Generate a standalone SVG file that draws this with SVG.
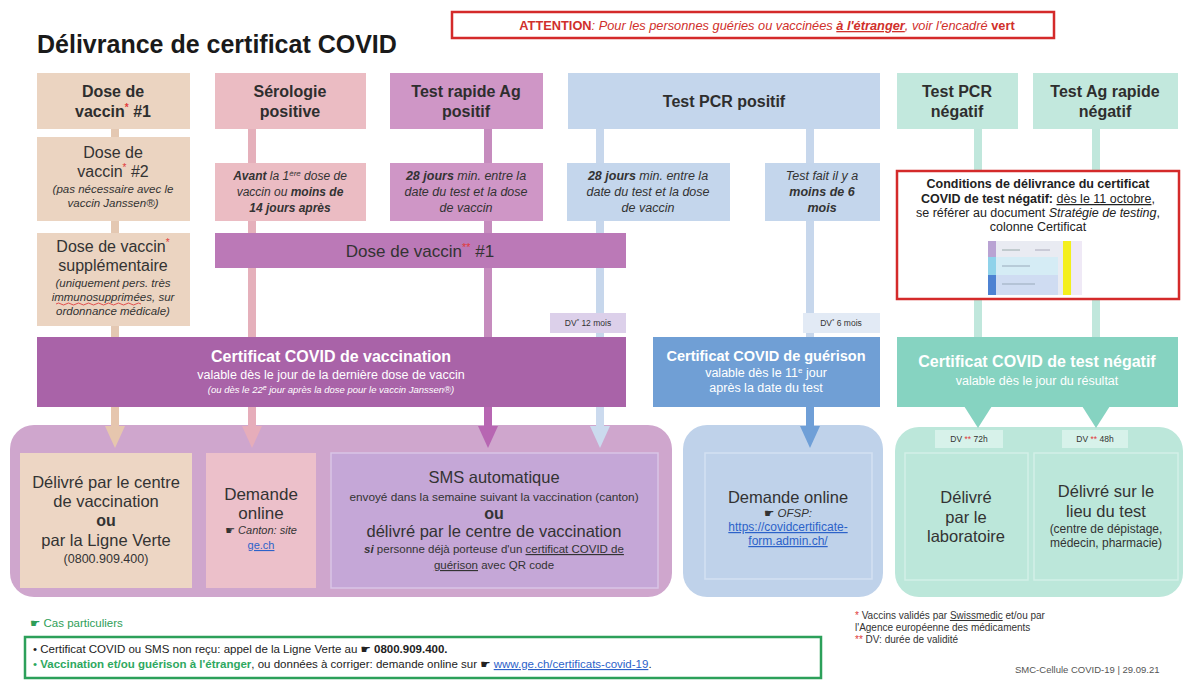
<svg xmlns="http://www.w3.org/2000/svg" width="1184" height="680" viewBox="0 0 1184 680">
<defs>
<style>
text{font-family:"Liberation Sans",Arial,sans-serif;fill:#333}
.m{text-anchor:middle}
.h{font-weight:bold;font-size:16px;fill:#2e2e2e}
.it{font-style:italic}
.b{font-weight:bold}
.r{fill:#e03a3a}
.w{fill:#fff}
.lnk{fill:#2c62c9;text-decoration:underline}
.u{text-decoration:underline}
.hand{font-family:"DejaVu Sans",sans-serif}
.ln{fill:none;stroke-width:8}
</style>
<marker id="aTan" viewBox="0 0 22 20" refX="0" refY="10" markerWidth="22" markerHeight="20" markerUnits="userSpaceOnUse" orient="auto"><path d="M0,0 L22,10 L0,20 z" fill="#e6c6ae"/></marker>
<marker id="aPink" viewBox="0 0 22 20" refX="0" refY="10" markerWidth="22" markerHeight="20" markerUnits="userSpaceOnUse" orient="auto"><path d="M0,0 L22,10 L0,20 z" fill="#e6adba"/></marker>
<marker id="aMauve" viewBox="0 0 22 20" refX="0" refY="10" markerWidth="22" markerHeight="20" markerUnits="userSpaceOnUse" orient="auto"><path d="M0,0 L22,10 L0,20 z" fill="#b766b2"/></marker>
<marker id="aLBlue" viewBox="0 0 22 20" refX="0" refY="10" markerWidth="22" markerHeight="20" markerUnits="userSpaceOnUse" orient="auto"><path d="M0,0 L22,10 L0,20 z" fill="#cbdaee"/></marker>
<marker id="aBlue" viewBox="0 0 22 20" refX="0" refY="10" markerWidth="22" markerHeight="20" markerUnits="userSpaceOnUse" orient="auto"><path d="M0,0 L22,10 L0,20 z" fill="#6f9fd7"/></marker>
</defs>
<rect width="1184" height="680" fill="#fff"/>

<text x="37" y="53" font-size="25" font-weight="bold" style="fill:#1a1a1a">Délivrance de certificat COVID</text>

<g id="attention">
<rect x="452" y="12" width="602" height="26" fill="#fff" stroke="#d42a2a" stroke-width="2.5"/>
<text x="767" y="30" class="m it" font-size="12.8" style="fill:#d0302c"><tspan class="b" font-style="normal">ATTENTION</tspan>: Pour les personnes guéries ou vaccinées <tspan class="b u">à l'étranger</tspan>, voir l'encadré <tspan class="b" font-style="normal">vert</tspan></text>
</g>

<!-- containers -->
<g id="cont-vacc"><rect x="10" y="425" width="662" height="172" rx="24" fill="#cfa6cd"/></g>
<g id="cont-guer"><rect x="683" y="425" width="200" height="172" rx="24" fill="#bfd2ea"/></g>
<g id="cont-neg"><rect x="895" y="427" width="288" height="170" rx="24" fill="#bce7da"/></g>

<!-- connectors -->
<g id="connectors">
<line class="ln" x1="115" y1="129" x2="115" y2="337" stroke="#e4c8b2"/>
<line class="ln" x1="115" y1="407" x2="115" y2="426" stroke="#e6c6ae" marker-end="url(#aTan)"/>
<line class="ln" x1="252" y1="129" x2="252" y2="337" stroke="#e5b0bb"/>
<line class="ln" x1="252" y1="407" x2="252" y2="426" stroke="#e6adba" marker-end="url(#aPink)"/>
<line class="ln" x1="488" y1="129" x2="488" y2="337" stroke="#c68cbe"/>
<line class="ln" x1="488" y1="407" x2="488" y2="426" stroke="#b766b2" marker-end="url(#aMauve)"/>
<line class="ln" x1="600" y1="129" x2="600" y2="337" stroke="#c7d7ec"/>
<line class="ln" x1="600" y1="407" x2="600" y2="426" stroke="#cbdaee" marker-end="url(#aLBlue)"/>
<line class="ln" x1="810" y1="129" x2="810" y2="337" stroke="#c7d7ec"/>
<line class="ln" x1="810" y1="407" x2="810" y2="426" stroke="#6f9fd7" marker-end="url(#aBlue)"/>
<line class="ln" x1="978" y1="129" x2="978" y2="337" stroke="#c0e7dc"/>
<line class="ln" x1="1096" y1="129" x2="1096" y2="337" stroke="#c0e7dc"/>
<polygon points="964,406 992,406 978,428" fill="#86d3c1"/>
<polygon points="1082,406 1110,406 1096,428" fill="#86d3c1"/>
</g>

<!-- top row -->
<g id="dose1">
<rect x="37" y="73" width="153" height="56" fill="#ebd4c1"/>
<text x="113" y="97" class="m h">Dose de</text>
<text x="113" y="117" class="m h">vaccin<tspan class="r" font-size="10" dy="-6">*</tspan><tspan dy="6"> #1</tspan></text>
</g>
<g id="serologie">
<rect x="215" y="73" width="151" height="56" fill="#ebbcc3"/>
<text x="290" y="97" class="m h">Sérologie</text>
<text x="290" y="117" class="m h">positive</text>
</g>
<g id="ag-pos">
<rect x="390" y="73" width="153" height="56" fill="#cf96c6"/>
<text x="466" y="97" class="m h">Test rapide Ag</text>
<text x="466" y="117" class="m h">positif</text>
</g>
<g id="pcr-pos">
<rect x="568" y="73" width="312" height="56" fill="#c4d6ec"/>
<text x="724" y="107" class="m h">Test PCR positif</text>
</g>
<g id="pcr-neg">
<rect x="897" y="73" width="121" height="56" fill="#c2e8dd"/>
<text x="957" y="97" class="m h">Test PCR</text>
<text x="957" y="117" class="m h">négatif</text>
</g>
<g id="ag-neg">
<rect x="1033" y="73" width="145" height="56" fill="#c2e8dd"/>
<text x="1105" y="97" class="m h">Test Ag rapide</text>
<text x="1105" y="117" class="m h">négatif</text>
</g>

<!-- second row -->
<g id="dose2">
<rect x="37" y="137" width="153" height="84" fill="#ebd4c1"/>
<text x="113" y="158" class="m" font-size="16">Dose de</text>
<text x="113" y="177" class="m" font-size="16">vaccin<tspan class="r" font-size="10" dy="-6">*</tspan><tspan dy="6"> #2</tspan></text>
<text x="113" y="193" class="m it" font-size="11.5">(pas nécessaire avec le</text>
<text x="113" y="207" class="m it" font-size="11.5">vaccin Janssen®)</text>
</g>
<g id="serologie-cond">
<rect x="215" y="163" width="151" height="58" fill="#ebbcc3"/>
<text x="290" y="180" class="m it" font-size="12"><tspan class="b">Avant</tspan> la 1<tspan font-size="8" dy="-4">ère</tspan><tspan dy="4"> dose de</tspan></text>
<text x="290" y="196" class="m it" font-size="12">vaccin ou <tspan class="b">moins de</tspan></text>
<text x="290" y="212" class="m it b" font-size="12">14 jours après</text>
</g>
<g id="ag-cond">
<rect x="390" y="163" width="153" height="58" fill="#cf96c6"/>
<text x="466" y="180" class="m it" font-size="12.5"><tspan class="b">28 jours</tspan> min. entre la</text>
<text x="466" y="196" class="m it" font-size="12.5">date du test et la dose</text>
<text x="466" y="212" class="m it" font-size="12.5">de vaccin</text>
</g>
<g id="pcr-cond1">
<rect x="567" y="163" width="163" height="58" fill="#c4d6ec"/>
<text x="648" y="180" class="m it" font-size="12.5"><tspan class="b">28 jours</tspan> min. entre la</text>
<text x="648" y="196" class="m it" font-size="12.5">date du test et la dose</text>
<text x="648" y="212" class="m it" font-size="12.5">de vaccin</text>
</g>
<g id="pcr-cond2">
<rect x="765" y="163" width="115" height="58" fill="#c4d6ec"/>
<text x="822" y="180" class="m it" font-size="12.5">Test fait il y a</text>
<text x="822" y="196" class="m it b" font-size="12.5">moins de 6</text>
<text x="822" y="212" class="m it b" font-size="12.5">mois</text>
</g>
<g id="conditions">
<rect x="897" y="171" width="282" height="128" fill="#fff" stroke="#d42a2a" stroke-width="2.5"/>
<text x="1038" y="188" class="m b" font-size="12.5" style="fill:#222">Conditions de délivrance du certificat</text>
<text x="1038" y="203" class="m" font-size="12.5" style="fill:#222"><tspan class="b">COVID de test négatif:</tspan> <tspan class="u">dès le 11 octobre</tspan>,</text>
<text x="1038" y="217" class="m" font-size="12.5" style="fill:#222">se référer au document <tspan class="it">Stratégie de testing</tspan>,</text>
<text x="1038" y="231" class="m" font-size="12.5" style="fill:#222">colonne Certificat</text>
<rect x="988" y="241" width="94" height="54" fill="#e9ebf2"/>
<rect x="988" y="241" width="8" height="16" fill="#b9a3d3"/>
<rect x="988" y="257" width="8" height="18" fill="#8fd2ea"/>
<rect x="988" y="275" width="8" height="20" fill="#4d82d2"/>
<rect x="996" y="257" width="62" height="18" fill="#d5ecf5"/>
<rect x="996" y="275" width="62" height="20" fill="#cfdcf2"/>
<rect x="1063" y="241" width="8" height="54" fill="#f4ef1c"/>
<rect x="1072" y="241" width="10" height="54" fill="#efe9f6"/>
<line x1="1002" y1="250" x2="1020" y2="250" stroke="#9aa" stroke-width="1"/>
<line x1="1002" y1="266" x2="1030" y2="266" stroke="#9ab" stroke-width="1"/>
<line x1="1002" y1="284" x2="1035" y2="284" stroke="#9ab" stroke-width="1"/>
<line x1="1035" y1="250" x2="1050" y2="250" stroke="#aab" stroke-width="1"/>
</g>

<!-- third row -->
<g id="dose-supp">
<rect x="37" y="233" width="153" height="93" fill="#ebd4c1"/>
<text x="113" y="252" class="m" font-size="16">Dose de vaccin<tspan class="r" font-size="10" dy="-6">*</tspan></text>
<text x="113" y="271" class="m" font-size="16">supplémentaire</text>
<text x="113" y="287" class="m it" font-size="11.5">(uniquement pers. très</text>
<text x="113" y="301" class="m it" font-size="11.5">immunosupprimées, sur</text>
<path d="M56,304 q2.5,-2 5,0 t5,0 t5,0 t5,0 t5,0 t5,0 t5,0 t5,0 t5,0 t5,0 t5,0 t5,0 t5,0 t5,0 t5,0 t5,0 t5,0" fill="none" stroke="#e04040" stroke-width="0.9"/>
<text x="113" y="315" class="m it" font-size="11.5">ordonnance médicale)</text>
</g>
<g id="dose-vaccin-1">
<rect x="215" y="233" width="411" height="35" fill="#bb79b7"/>
<text x="420" y="257" class="m" font-size="17">Dose de vaccin<tspan class="r" font-size="11" dy="-6">**</tspan><tspan dy="6"> #1</tspan></text>
</g>
<g id="dv12">
<rect x="550" y="313" width="76" height="20" fill="#dcd0ea"/>
<text x="588" y="326" class="m" font-size="8.5">DV<tspan font-size="6" dy="-3">*</tspan><tspan dy="3"> 12 mois</tspan></text>
</g>
<g id="dv6">
<rect x="803" y="313" width="77" height="20" fill="#e2eaf5"/>
<text x="841" y="326" class="m" font-size="8.5">DV<tspan font-size="6" dy="-3">*</tspan><tspan dy="3"> 6 mois</tspan></text>
</g>

<!-- certificates -->
<g id="cert-vaccination">
<rect x="37" y="337" width="589" height="70" fill="#a963a8"/>
<text x="331" y="362" class="m b w" font-size="16">Certificat COVID de vaccination</text>
<text x="331" y="379" class="m w" font-size="12.5">valable dès le jour de la dernière dose de vaccin</text>
<text x="331" y="393" class="m it w" font-size="9.5">(ou dès le 22<tspan font-size="7" dy="-3">e</tspan><tspan dy="3"> jour après la dose pour le vaccin Janssen®)</tspan></text>
</g>
<g id="cert-guerison">
<rect x="653" y="337" width="227" height="70" fill="#709fd5"/>
<text x="766" y="361" class="m b w" font-size="14.5">Certificat COVID de guérison</text>
<text x="766" y="377" class="m w" font-size="12.5">valable dès le 11<tspan font-size="8" dy="-4">e</tspan><tspan dy="4"> jour</tspan></text>
<text x="766" y="392" class="m w" font-size="12.5">après la date du test</text>
</g>
<g id="cert-negatif">
<rect x="897" y="337" width="281" height="70" fill="#86d3c1"/>
<text x="1037" y="367" class="m b w" font-size="16">Certificat COVID de test négatif</text>
<text x="1037" y="385" class="m w" font-size="12.5">valable dès le jour du résultat</text>
</g>

<!-- bottom delivery boxes -->
<g id="deliv-centre">
<rect x="20" y="453" width="172" height="135" fill="#edd6c4"/>
<text x="106" y="488" class="m" font-size="16.5">Délivré par le centre</text>
<text x="106" y="507" class="m" font-size="16.5">de vaccination</text>
<text x="106" y="526" class="m b" font-size="16">ou</text>
<text x="106" y="546" class="m" font-size="16.5">par la Ligne Verte</text>
<text x="106" y="563" class="m" font-size="12.5">(0800.909.400)</text>
</g>
<g id="deliv-online-canton">
<rect x="206" y="453" width="110" height="135" fill="#ecc0ca"/>
<text x="261" y="500" class="m" font-size="17">Demande</text>
<text x="261" y="519" class="m" font-size="17">online</text>
<text x="261" y="534" class="m it" font-size="11"><tspan class="hand" font-style="normal">☛</tspan> Canton: site</text>
<text x="261" y="549" class="m lnk" font-size="11">ge.ch</text>
</g>
<g id="deliv-sms">
<rect x="331" y="453" width="327" height="135" fill="#c5a7d7" stroke="#d9c5e6" stroke-width="1.5"/>
<text x="494" y="483" class="m" font-size="16.5">SMS automatique</text>
<text x="494" y="501" class="m" font-size="11.8">envoyé dans la semaine suivant la vaccination (canton)</text>
<text x="494" y="519" class="m b" font-size="16">ou</text>
<text x="494" y="537" class="m" font-size="16.5">délivré par le centre de vaccination</text>
<text x="494" y="553" class="m" font-size="11.5"><tspan class="b it">si</tspan> personne déjà porteuse d'un <tspan class="u">certificat COVID de</tspan></text>
<text x="494" y="569" class="m" font-size="11.5"><tspan class="u">guérison</tspan> avec QR code</text>
</g>
<g id="deliv-ofsp">
<rect x="705" y="453" width="167" height="126" fill="none" stroke="#d4e1f2" stroke-width="1.5"/>
<text x="788" y="503" class="m" font-size="16.5">Demande online</text>
<text x="788" y="517" class="m it" font-size="11.5"><tspan class="hand" font-style="normal">☛</tspan> OFSP:</text>
<text x="788" y="531" class="m lnk" font-size="12">https://covidcertificate-</text>
<text x="788" y="545" class="m lnk" font-size="12">form.admin.ch/</text>
</g>
<g id="deliv-labo">
<rect x="905" y="453" width="123" height="127" fill="none" stroke="#d2f0e7" stroke-width="1.5"/>
<rect x="935" y="430" width="68" height="18" fill="#d7f2ea"/>
<text x="969" y="442" class="m" font-size="8.5">DV <tspan class="r">**</tspan> 72h</text>
<text x="966" y="503" class="m" font-size="16.5">Délivré</text>
<text x="966" y="523" class="m" font-size="16.5">par le</text>
<text x="966" y="542" class="m" font-size="16.5">laboratoire</text>
</g>
<g id="deliv-lieu">
<rect x="1034" y="453" width="144" height="127" fill="none" stroke="#d2f0e7" stroke-width="1.5"/>
<rect x="1062" y="430" width="66" height="18" fill="#d7f2ea"/>
<text x="1095" y="442" class="m" font-size="8.5">DV <tspan class="r">**</tspan> 48h</text>
<text x="1106" y="497" class="m" font-size="16.5">Délivré sur le</text>
<text x="1106" y="517" class="m" font-size="16.5">lieu du test</text>
<text x="1106" y="533" class="m" font-size="12">(centre de dépistage,</text>
<text x="1106" y="547" class="m" font-size="12">médecin, pharmacie)</text>
</g>

<!-- footer -->
<g id="cas-particuliers">
<text x="30" y="627" font-size="11.5" style="fill:#2e9e57"><tspan class="hand">☛</tspan> Cas particuliers</text>
<rect x="25" y="637" width="796" height="41" fill="none" stroke="#2ca05a" stroke-width="2.5"/>
<text x="33" y="653" font-size="11.5" style="fill:#222">• Certificat COVID ou SMS non reçu: appel de la Ligne Verte au <tspan class="hand">☛</tspan> <tspan class="b">0800.909.400.</tspan></text>
<text x="33" y="668" font-size="11.5" style="fill:#222"><tspan style="fill:#2ea860">• </tspan><tspan class="b" style="fill:#2ea860">Vaccination et/ou guérison à l'étranger</tspan>, ou données à corriger: demande online sur <tspan class="hand">☛</tspan> <tspan class="lnk">www.ge.ch/certificats-covid-19</tspan>.</text>
</g>
<g id="notes">
<text x="855" y="619" font-size="10"><tspan class="r">*</tspan> Vaccins validés par <tspan class="u">Swissmedic</tspan> et/ou par</text>
<text x="855" y="631" font-size="10">l'Agence européenne des médicaments</text>
<text x="855" y="643" font-size="10"><tspan class="r">**</tspan> DV: durée de validité</text>
<text x="1015" y="673" font-size="9.5" style="fill:#555">SMC-Cellule COVID-19 | 29.09.21</text>
</g>
</svg>
